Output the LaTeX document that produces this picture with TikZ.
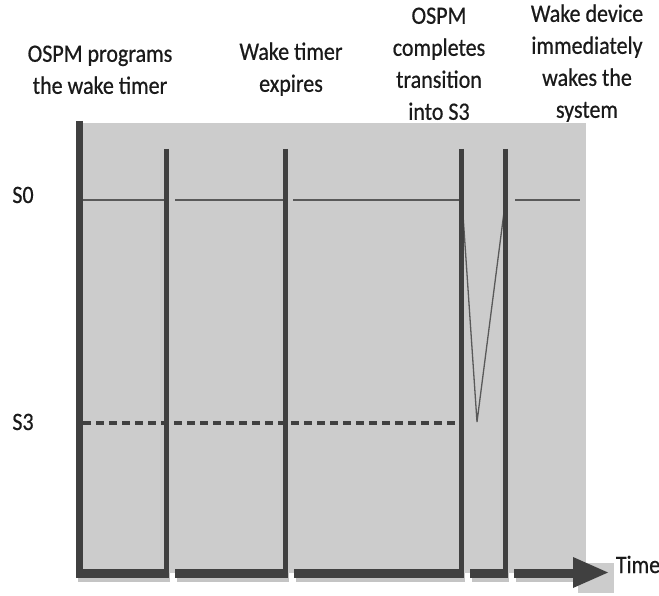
\documentclass[tikz,border=0pt]{standalone}
\usepackage{fontspec}
\setmainfont{Carlito}[FakeStretch=0.88, FakeBold=0.6]
\definecolor{bgray}{HTML}{CCCCCC}
\definecolor{axisc}{HTML}{404040}
\definecolor{levelc}{HTML}{595959}
\definecolor{shadowc}{HTML}{C4C4C4}
\definecolor{textc}{HTML}{1A1A1A}
\tikzset{
  label/.style={font=\fontsize{25}{32}\selectfont, text=textc, align=center, inner sep=0pt, text depth=0pt, anchor=south},
  statelabel/.style={font=\fontsize{25}{32}\selectfont, text=textc, inner sep=0pt, anchor=base},
  tick/.style={axisc, line width=5pt},
  level/.style={levelc, line width=1.6pt}
}
\begin{document}
\begin{tikzpicture}[x=1pt,y=-1pt]
\useasboundingbox (0,0) rectangle (659,596);
% backgrounds
\fill[bgray] (80,123) rectangle (586,573);
\fill[bgray] (578,563) rectangle (614,593);
% labels
\node[label] (prog) at (100,94) {OSPM programs\\the wake timer};
\node[label] (expi) at (291,92) {Wake timer\\expires};
\node[label] (comp) at (439,120) {OSPM\\completes\\transition\\into S3};
\node[label] (wake) at (587,118) {Wake device\\immediately\\wakes the\\system};
\node[statelabel] (s0) at (23,203) {S0};
\node[statelabel] (s3) at (23,430) {S3};
\node[statelabel] (time) at (638,573) {Time};
% shadows of the time axis
\foreach \a/\b in {78/170, 177/289, 296/465, 472/509, 516/575}
  \draw[shadowc, line width=9pt] (\a,577) -- (\b,577);
% S0 level
\foreach \a/\b in {80/165, 175/284, 293/460, 515/580}
  \draw[level] (\a,200) -- (\b,200);
% S3 level
\draw[axisc, line width=3.5pt, dash pattern=on 8pt off 5pt] (83,423) -- (460,423);
% transition S0 -> S3 -> S0
\draw[levelc, line width=1.3pt] (462,200) -- (477,422) -- (504,212);
% vertical ticks
\foreach \x in {166, 285, 461, 505}
  \draw[tick] (\x,149) -- (\x,573);
\draw[axisc, line width=7pt] (79.5,121) -- (79.5,573);
% time axis
\foreach \a/\b in {76/168.5, 175/287.5, 294/463.5, 470/507.5, 514/574}
  \draw[axisc, line width=9pt] (\a,573) -- (\b,573);
\fill[axisc] (573,557) -- (608,572.5) -- (573,588) -- cycle;
\end{tikzpicture}
\end{document}
